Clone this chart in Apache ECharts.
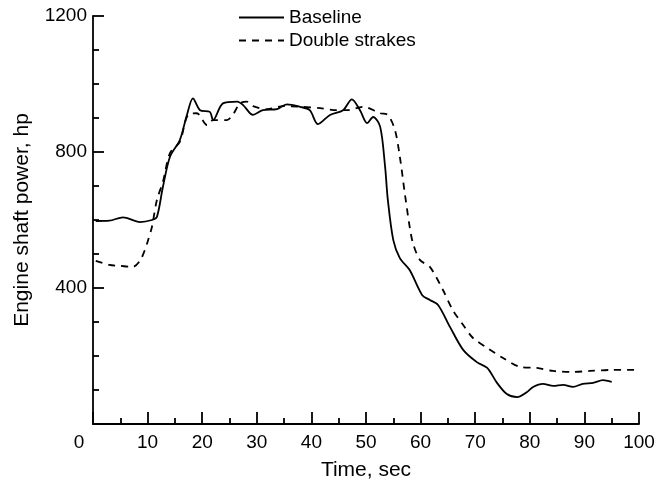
<!DOCTYPE html>
<html>
<head>
<meta charset="utf-8">
<script src="https://cdn.jsdelivr.net/npm/echarts@6/dist/echarts.min.js"></script>
<style>html,body{margin:0;padding:0;background:#fff;}#c{width:669px;height:489px;}</style>
</head>
<body>
<div id="c"></div>
<script>
var xTicks = [0,10,20,30,40,50,60,70,80,90,100];
var yTicks = [0,400,800,1200];
var seriesNames = ['Baseline', 'Double strakes'];

var baselineTime = [0.5,3,5.5,8.6,10.8,11.7,12.8,14.1,15.9,17.2,18.3,19.6,21.4,22,23.8,26.4,27.5,29.3,31.1,33.7,35.5,37.9,39.7,41.2,43.4,45.8,47.4,48.9,50.2,51.3,52.6,53.5,54,55,56.2,58,60.3,61.7,63.2,65.4,67.8,70.3,72.2,74,75.8,77.7,79.5,80.6,82.4,84.3,86.1,87.9,89.7,91.6,93.4,95];
var baselineValue = [597,598,608,594,600,609,697,786,835,909,958,923,918,894,943,948,938,909,923,926,940,933,923,882,909,923,955,923,885,903,874,756,659,541,488,453,379,365,350,285,218,182,165,121,88,79,94,109,118,112,115,109,118,121,129,124];

var strakesTime = [0.5,3,5,7.3,8.6,9.5,10.1,10.8,11.7,12.8,14.1,15.9,17.4,19,20.9,22,24.5,25.6,26.9,28.2,29.3,31.9,34.8,37.9,41.6,44.7,46.5,49.5,52.6,54,55.3,56.2,57.1,58,58.6,59.9,61.7,64.1,65.9,67.8,69.6,72.2,75.1,78.2,81.3,84.3,87.9,91,95.2,99.6];
var strakesValue = [480,468,465,462,480,512,541,580,659,712,797,830,909,914,879,894,894,909,943,948,935,926,935,933,929,923,923,933,914,909,865,786,679,580,532,482,462,394,335,291,253,224,194,168,165,156,153,156,159,159];

function pairs(t, v){ return t.map(function(x,i){ return [x, v[i]]; }); }

var font = 'Liberation Sans, Arial, Helvetica, sans-serif';
var chart = echarts.init(document.getElementById('c'));
chart.setOption({
  animation: false,
  backgroundColor: '#fff',
  grid: {left: 93, right: 30, top: 16, bottom: 65, containLabel: false},
  legend: {
    orient: 'vertical', left: 233, top: 3, itemWidth: 45, itemHeight: 14, itemGap: 4,
    itemStyle: {opacity: 0},
    textStyle: {fontFamily: font, fontSize: 19, color: '#000'},
    data: seriesNames
  },
  xAxis: {
    type: 'value', min: 0, max: 100, interval: 10,
    name: 'Time, sec', nameLocation: 'middle', nameGap: 36,
    nameTextStyle: {fontFamily: font, fontSize: 21, color: '#000'},
    axisLine: {lineStyle: {color: '#000', width: 1.8}},
    axisTick: {inside: true, length: 12, lineStyle: {color: '#000', width: 1.8}},
    minorTick: {show: true, splitNumber: 2, length: 6, lineStyle: {color: '#000', width: 1.8}},
    splitLine: {show: false},
    axisLabel: {
      fontFamily: font, fontSize: 19, color: '#000', margin: 9,
      formatter: function(v){ return v === 0 ? '{z|0}' : String(v); },
      rich: {z: {fontFamily: font, fontSize: 19, color: '#000', padding: [0, 28, 0, 0]}}
    }
  },
  yAxis: {
    type: 'value', min: 0, max: 1200, interval: 400,
    name: 'Engine shaft power, hp', nameLocation: 'middle', nameGap: 60,
    nameTextStyle: {fontFamily: font, fontSize: 21, color: '#000'},
    axisLine: {lineStyle: {color: '#000', width: 1.8}},
    axisTick: {inside: true, length: 11, lineStyle: {color: '#000', width: 1.8}},
    minorTick: {show: true, splitNumber: 4, length: 6, lineStyle: {color: '#000', width: 1.8}},
    splitLine: {show: false},
    axisLabel: {
      fontFamily: font, fontSize: 19, color: '#000', margin: 6,
      formatter: function(v){ return v === 0 ? '' : String(v); }
    }
  },
  series: [
    {name: seriesNames[0], type: 'line', data: pairs(baselineTime, baselineValue), smooth: 0.3, symbol: 'none',
     lineStyle: {color: '#000', width: 1.8, type: 'solid'}, itemStyle: {color: '#000'}},
    {name: seriesNames[1], type: 'line', data: pairs(strakesTime, strakesValue), smooth: 0.3, symbol: 'none',
     lineStyle: {color: '#000', width: 1.8, type: [7, 6]}, itemStyle: {color: '#000'}}
  ]
});
</script>
</body>
</html>
